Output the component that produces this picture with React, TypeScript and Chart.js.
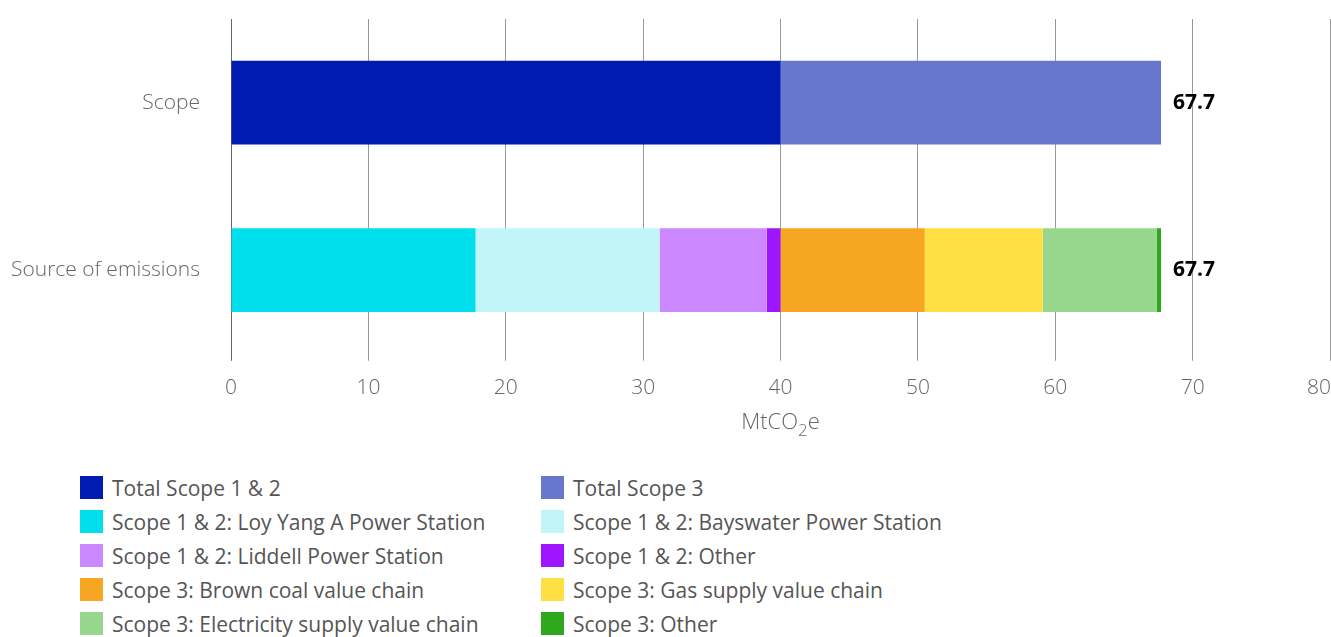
import React, { useEffect, useRef } from 'react';
import { Chart, registerables } from 'chart.js';

Chart.register(...registerables);

// ---------- data ----------
const categories = ['Scope', 'Source of emissions'];

const seriesNames = [
  'Total Scope 1 & 2',
  'Total Scope 3',
  'Scope 1 & 2: Loy Yang A Power Station',
  'Scope 1 & 2: Bayswater Power Station',
  'Scope 1 & 2: Liddell Power Station',
  'Scope 1 & 2: Other',
  'Scope 3: Brown coal value chain',
  'Scope 3: Gas supply value chain',
  'Scope 3: Electricity supply value chain',
  'Scope 3: Other',
];

const seriesColors = [
  '#001CB0',
  '#6677CC',
  '#00DFEB',
  '#C2F5F8',
  '#CC88FF',
  '#A015FF',
  '#F6A623',
  '#FFE044',
  '#97D68D',
  '#2EA81C',
];

const totalScope12 = [40.0, null];
const totalScope3 = [27.7, null];
const loyYangA = [null, 17.8];
const bayswater = [null, 13.4];
const liddell = [null, 7.8];
const otherScope12 = [null, 1.0];
const brownCoal = [null, 10.5];
const gasSupply = [null, 8.6];
const electricitySupply = [null, 8.3];
const otherScope3 = [null, 0.3];

const seriesValues = [
  totalScope12,
  totalScope3,
  loyYangA,
  bayswater,
  liddell,
  otherScope12,
  brownCoal,
  gasSupply,
  electricitySupply,
  otherScope3,
];

const xMin = 0;
const xMax = 80;
const xStep = 10;
// axis title pieces: main text, subscript, trailing text
const xTitleParts = ['MtCO', '2', 'e'];

const FONT = "'Open Sans', 'Noto Sans', sans-serif";
const AXIS_FONT_SIZE = 21;
const AXIS_FONT = `300 ${AXIS_FONT_SIZE}px ${FONT}`;
const TITLE_FONT = `300 22px ${FONT}`;
const SUB_FONT = `300 17px ${FONT}`;
const Y_LABEL_PAD = 31;

// ---------- plugins ----------
const totalsPlugin = {
  id: 'totals',
  afterDatasetsDraw(chart: any) {
    const { ctx } = chart;
    categories.forEach((_, i) => {
      let sum = 0;
      let endX = -Infinity;
      let y = 0;
      chart.data.datasets.forEach((ds: any, di: number) => {
        const v = ds.data[i];
        if (v === null || v === undefined) return;
        sum += v;
        const el = chart.getDatasetMeta(di).data[i];
        if (el && el.x > endX) {
          endX = el.x;
          y = el.y;
        }
      });
      if (endX === -Infinity) return;
      ctx.save();
      ctx.font = `bold 21px ${FONT}`;
      ctx.fillStyle = '#000';
      ctx.textAlign = 'left';
      ctx.textBaseline = 'middle';
      ctx.fillText(sum.toFixed(1), endX + 12, y);
      ctx.restore();
    });
  },
};

const axisExtrasPlugin = {
  id: 'axisExtras',
  afterDraw(chart: any) {
    const scale = chart.scales.x;
    const ctx = chart.ctx;
    const items = scale.getLabelItems ? scale.getLabelItems(chart.chartArea) : [];
    // last tick label, kept inside the canvas (right-aligned on its grid line)
    if (items.length) {
      const first = items[0];
      const o = first.options;
      ctx.save();
      ctx.font = AXIS_FONT;
      ctx.fillStyle = '#666';
      ctx.textAlign = 'right';
      ctx.textBaseline = o.textBaseline || 'middle';
      ctx.fillText(String(xMax), scale.getPixelForValue(xMax) + 1, o.translation[1] + (first.textOffset || 0));
      ctx.restore();
    }
    // axis title with a real subscript
    const [a, sub, b] = xTitleParts;
    ctx.save();
    ctx.fillStyle = '#666';
    ctx.textBaseline = 'alphabetic';
    ctx.textAlign = 'left';
    ctx.font = TITLE_FONT;
    const wa = ctx.measureText(a).width;
    const wb = ctx.measureText(b).width;
    ctx.font = SUB_FONT;
    const ws = ctx.measureText(sub).width;
    const total = wa + ws + wb;
    const cx = (chart.chartArea.left + chart.chartArea.right) / 2;
    const baseY = scale.bottom + 13;
    let x = cx - total / 2;
    ctx.font = TITLE_FONT;
    ctx.fillText(a, x, baseY);
    x += wa;
    ctx.font = SUB_FONT;
    ctx.fillText(sub, x, baseY + 7);
    x += ws;
    ctx.font = TITLE_FONT;
    ctx.fillText(b, x, baseY);
    ctx.restore();
  },
};

export default function App() {
  const ref = useRef<HTMLCanvasElement | null>(null);

  useEffect(() => {
    document.body.style.margin = '0';
    if (!ref.current) return;
    const chart = new Chart(ref.current, {
      type: 'bar',
      data: {
        labels: categories,
        datasets: seriesNames.map((name, i) => ({
          label: name,
          data: seriesValues[i] as any,
          backgroundColor: seriesColors[i],
          borderWidth: 0,
          categoryPercentage: 0.5,
          barPercentage: 1,
        })),
      },
      options: {
        indexAxis: 'y',
        animation: false,
        responsive: false,
        maintainAspectRatio: false,
        layout: { padding: { top: 19, right: 1, bottom: 34, left: 0 } },
        plugins: {
          legend: { display: false },
          tooltip: { enabled: false },
        },
        scales: {
          x: {
            type: 'linear',
            stacked: true,
            min: xMin,
            max: xMax,
            afterFit(scale: any) {
              scale.paddingRight = 0;
            },
            ticks: {
              stepSize: xStep,
              color: '#666',
              padding: 15,
              font: { family: FONT, size: AXIS_FONT_SIZE, weight: '300' as any },
              callback: (v: any, idx: number, ticks: any[]) => (idx === ticks.length - 1 ? '' : String(v)),
            },
            grid: {
              color: (ctx: any) => (ctx.tick && ctx.tick.value === 0 ? '#666' : '#999'),
              lineWidth: 1,
              drawTicks: true,
              tickLength: 7,
            },
            border: { display: false },
            title: { display: false },
          },
          y: {
            type: 'category',
            stacked: true,
            afterFit(scale: any) {
              scale.paddingTop = 0;
              scale.paddingBottom = 0;
              const c = scale.ctx;
              c.save();
              c.font = AXIS_FONT;
              let widest = 0;
              categories.forEach((l) => {
                widest = Math.max(widest, c.measureText(l).width);
              });
              c.restore();
              scale.width = Math.ceil(widest) + Y_LABEL_PAD + 10;
            },
            ticks: {
              color: '#666',
              padding: Y_LABEL_PAD,
              font: { family: FONT, size: AXIS_FONT_SIZE, weight: '300' as any },
            },
            grid: { display: false, drawTicks: false },
            border: { display: false },
          },
        },
      },
      plugins: [totalsPlugin, axisExtrasPlugin],
    });
    let alive = true;
    if ((document as any).fonts && (document as any).fonts.load) {
      Promise.all([
        (document as any).fonts.load(AXIS_FONT),
        (document as any).fonts.load(`bold 21px ${FONT}`),
      ])
        .then(() => {
          if (alive) chart.update();
        })
        .catch(() => {});
    }
    return () => {
      alive = false;
      chart.destroy();
    };
  }, []);

  return (
    <div style={{ position: 'absolute', left: 0, top: 0, width: 1331, height: 637, background: '#fff', fontFamily: FONT }}>
      <canvas ref={ref} width={1331} height={450} style={{ display: 'block', width: 1331, height: 450 }} />
      <div
        style={{
          position: 'absolute',
          left: 80,
          top: 476,
          display: 'grid',
          gridTemplateColumns: '461px 461px',
          gridAutoRows: '34px',
        }}
      >
        {seriesNames.map((name, i) => (
          <div key={name} style={{ display: 'flex', alignItems: 'flex-start', height: 34 }}>
            <span
              style={{
                display: 'inline-block',
                width: 23,
                height: 23,
                background: seriesColors[i],
                flex: '0 0 auto',
              }}
            />
            <span
              style={{
                marginLeft: 9,
                fontSize: 21,
                lineHeight: '25px',
                color: '#555',
                whiteSpace: 'nowrap',
              }}
            >
              {name}
            </span>
          </div>
        ))}
      </div>
    </div>
  );
}
